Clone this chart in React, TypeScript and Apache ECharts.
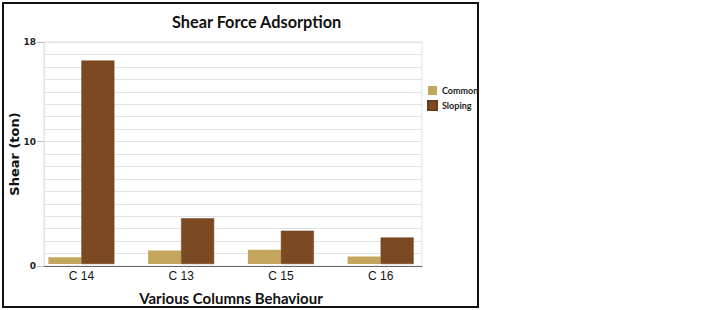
import React, { useEffect, useRef } from "react";
import * as echarts from "echarts";

const categories = ["C 14", "C 13", "C 15", "C 16"];
const commonValues = [0.55, 1.1, 1.15, 0.6];
const slopingValues = [16.5, 3.7, 2.7, 2.15];
const yLabelValues = [0, 10, 18];
const seriesNames = ["Common", "Sloping"];

export default function App() {
  const ref = useRef<HTMLDivElement>(null);
  useEffect(() => {
    if (!ref.current) return;
    const chart = echarts.init(ref.current, null, { renderer: "svg" });
    const gridLine = "#e2e2e2";
    chart.setOption({
      animation: false,
      backgroundColor: "#ffffff",
      title: {
        text: "Shear Force Adsorption",
        left: 167,
        top: 8,
        textStyle: { fontFamily: "Lato", fontWeight: "bold", fontSize: 16.3, color: "#111" },
      },
      legend: {
        orient: "vertical",
        left: 427,
        top: 86,
        padding: 0,
        itemWidth: 9,
        itemHeight: 9,
        itemGap: 5,
        icon: "rect",
        data: seriesNames,
        textStyle: { fontFamily: "Lato", fontWeight: "bold", fontSize: 9, color: "#222" },
      },
      graphic: [
        {
          type: "rect",
          shape: { x: 3, y: 3, width: 475, height: 304 },
          style: { fill: "none", stroke: "#111", lineWidth: 2 },
          silent: true,
        },
      ],
      grid: [
        { left: 40, right: 300, top: 42, bottom: 44, show: true, borderColor: gridLine, borderWidth: 1 },
        { left: 31.5, right: 291.5, top: 42, bottom: 44 },
      ],
      xAxis: [
        {
          gridIndex: 0,
          type: "category",
          data: categories,
          axisLine: { lineStyle: { color: "#666", width: 1 } },
          axisTick: { show: false },
          axisLabel: { show: false },
          splitLine: { show: false },
        },
        {
          gridIndex: 1,
          type: "category",
          data: categories,
          axisLine: { show: false },
          axisTick: { show: false },
          axisLabel: { fontFamily: "Liberation Sans", fontSize: 12, color: "#111", margin: 6 },
          name: "Various Columns Behaviour",
          nameLocation: "middle",
          nameGap: 26,
          nameTextStyle: { fontFamily: "Lato", fontWeight: "bold", fontSize: 15, color: "#111" },
        },
      ],
      yAxis: [
        {
          gridIndex: 0,
          type: "value",
          min: 0,
          max: 18,
          interval: 1,
          axisLine: { show: true, lineStyle: { color: gridLine } },
          axisTick: { show: false },
          axisLabel: { show: false },
          splitLine: { show: true, lineStyle: { color: gridLine, width: 1 } },
          name: "Shear (ton)",
          nameLocation: "middle",
          nameGap: 23,
          nameTextStyle: { fontFamily: "DejaVu Sans", fontWeight: "bold", fontSize: 13, color: "#111" },
        },
        {
          gridIndex: 0,
          type: "value",
          min: 0,
          max: 18,
          position: "left",
          axisLine: { show: false },
          axisTick: { show: true, length: 7, customValues: yLabelValues, lineStyle: { color: "#bbb" } },
          axisLabel: {
            customValues: yLabelValues,
            margin: 8,
            fontFamily: "DejaVu Sans",
            fontWeight: "bold",
            fontSize: 9,
            color: "#222",
          },
          splitLine: { show: false },
        },
        {
          gridIndex: 1,
          type: "value",
          min: 0,
          max: 18,
          show: false,
        },
      ],
      series: [
        {
          name: seriesNames[0],
          type: "bar",
          xAxisIndex: 1,
          yAxisIndex: 2,
          data: commonValues,
          barWidth: 33,
          barGap: "0%",
          itemStyle: { color: "#c3a65c" },
        },
        {
          name: seriesNames[1],
          type: "bar",
          xAxisIndex: 1,
          yAxisIndex: 2,
          data: slopingValues,
          barWidth: 33,
          barGap: "0%",
          itemStyle: { color: "#7b4a22", borderColor: "#6a3d1a", borderWidth: 0.5 },
        },
      ],
    });
    return () => chart.dispose();
  }, []);
  return (
    <div
      ref={ref}
      style={{ position: "fixed", left: 0, top: 0, width: 722, height: 310 }}
    />
  );
}
